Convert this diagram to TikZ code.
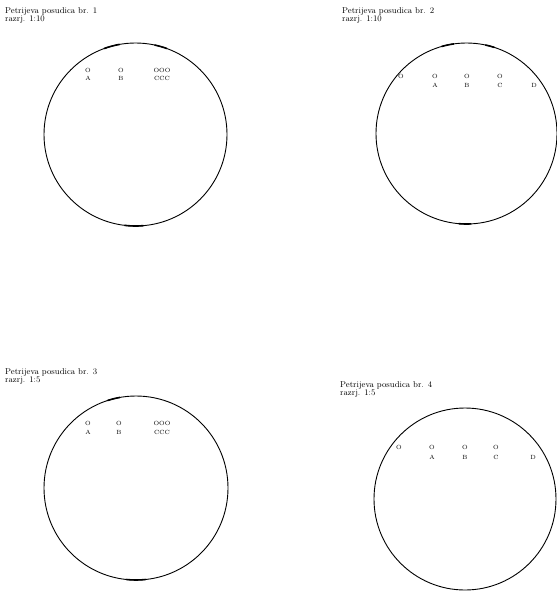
\documentclass[tikz,border=0pt]{standalone}
\usepackage{amsmath}
\usepackage{xcolor}
\usepackage{tikz}

\tikzset{
  dish/.style={draw, circle, line width=0.9pt},
  rim/.style={line width=1.6pt},
  title/.style={anchor=north west, align=left, inner sep=0pt, font=\fontsize{8.5}{8}\selectfont},
  lbl/.style={inner sep=0pt, font=\fontsize{6}{6}\selectfont}
}

\begin{document}
\begin{tikzpicture}[x=1pt, y=-1pt]
\useasboundingbox (0,0) rectangle (557,595);

% Dish 1
\node[title] (t1) at (5,7) {Petrijeva posudica br. 1\\razrj. 1:10};
\node[dish, minimum size=183pt] (d1) at (135.5,134.5) {};
\draw[rim] (d1.center) ++(100:91.5pt) arc (100:110:91.5pt);
\draw[rim] (d1.center) ++(70:91.5pt) arc (70:78:91.5pt);
\draw[rim] (d1.center) ++(-85:91.5pt) arc (-85:-97:91.5pt);
\node[lbl] (d1o1) at (88,70) {O};
\node[lbl] (d1a) at (88,78) {A};
\node[lbl] (d1o2) at (121,70) {O};
\node[lbl] (d1b) at (121,78) {B};
\node[lbl] (d1o3) at (162,70) {OOO};
\node[lbl] (d1c) at (162,78) {CCC};

% Dish 2
\node[title] (t2) at (342,7) {Petrijeva posudica br. 2\\razrj. 1:10};
\node[dish, minimum size=181pt] (d2) at (466.5,133.5) {};
\draw[rim] (d2.center) ++(98:90.5pt) arc (98:106:90.5pt);
\draw[rim] (d2.center) ++(72:90.5pt) arc (72:78:90.5pt);
\draw[rim] (d2.center) ++(-87:90.5pt) arc (-87:-95:90.5pt);
\node[lbl] (d2o0) at (401,76) {O};
\node[lbl] (d2o1) at (435,76) {O};
\node[lbl] (d2a) at (435,85) {A};
\node[lbl] (d2o2) at (467,76) {O};
\node[lbl] (d2b) at (467,85) {B};
\node[lbl] (d2o3) at (500,76) {O};
\node[lbl] (d2c) at (500,85) {C};
\node[lbl] (d2d) at (534,85) {D};

% Dish 3
\node[title] (t3) at (5,368) {Petrijeva posudica br. 3\\razrj. 1:5};
\node[dish, minimum size=184pt] (d3) at (136,488) {};
\draw[rim] (d3.center) ++(100:92pt) arc (100:108:92pt);
\draw[rim] (d3.center) ++(-84:92pt) arc (-84:-96:92pt);
\node[lbl] (d3o1) at (88,423) {O};
\node[lbl] (d3a) at (88,432) {A};
\node[lbl] (d3o2) at (119,423) {O};
\node[lbl] (d3b) at (119,432) {B};
\node[lbl] (d3o3) at (162,423) {OOO};
\node[lbl] (d3c) at (162,432) {CCC};

% Dish 4
\node[title] (t4) at (340,381) {Petrijeva posudica br. 4\\razrj. 1:5};
\node[dish, minimum size=182pt] (d4) at (465,499) {};
\node[lbl] (d4o0) at (399,447) {O};
\node[lbl] (d4o1) at (432,447) {O};
\node[lbl] (d4a) at (432,457) {A};
\node[lbl] (d4o2) at (465,447) {O};
\node[lbl] (d4b) at (465,457) {B};
\node[lbl] (d4o3) at (496,447) {O};
\node[lbl] (d4c) at (496,457) {C};
\node[lbl] (d4d) at (533,457) {D};

\end{tikzpicture}
\end{document}
